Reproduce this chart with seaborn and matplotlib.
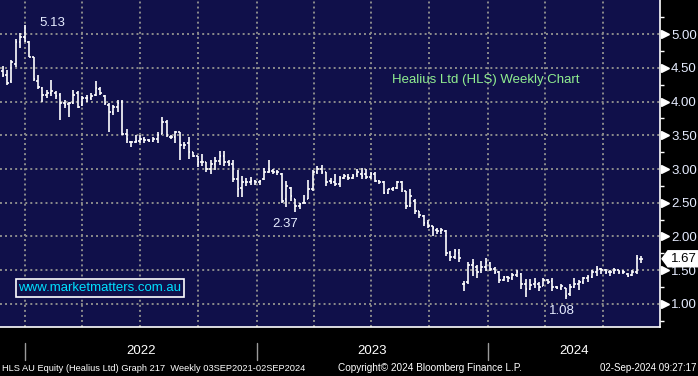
import numpy as np
import pandas as pd
import matplotlib
matplotlib.use("Agg")
import matplotlib.pyplot as plt
import matplotlib.dates as mdates
import matplotlib.transforms as mtransforms
from matplotlib.patches import Polygon
import seaborn as sns

# weekly bars, first visible week and count
first_week = "2021-11-26"
n_weeks = 145

opens = [
    4.45, 4.40, 4.30, 4.55, 4.88, 4.95, 4.88, 4.66, 4.30, 4.20,
    4.10, 4.12, 4.12, 4.10, 3.98, 3.97, 3.98, 4.12, 3.95, 4.05,
    4.05, 4.10, 4.18, 4.08, 3.95, 3.85, 3.92, 4.00, 3.52, 3.40,
    3.40, 3.42, 3.45, 3.43, 3.42, 3.45, 3.52, 3.70, 3.48, 3.48,
    3.55, 3.35, 3.38, 3.25, 3.20, 3.10, 3.10, 3.00, 3.08, 3.12,
    3.20, 3.10, 3.08, 2.85, 2.72, 2.80, 2.80, 2.82, 2.80, 2.85,
    2.95, 2.97, 2.96, 2.92, 2.55, 2.72, 2.55, 2.45, 2.50, 2.55,
    2.70, 2.96, 3.00, 2.95, 2.82, 2.80, 2.78, 2.87, 2.88, 2.86,
    2.92, 2.92, 2.92, 2.88, 2.92, 2.82, 2.80, 2.65, 2.70, 2.72,
    2.80, 2.68, 2.45, 2.52, 2.38, 2.30, 2.20, 2.15, 2.10, 2.08,
    2.08, 1.75, 1.70, 1.76, 1.30, 1.32, 1.58, 1.55, 1.50, 1.55,
    1.60, 1.52, 1.47, 1.36, 1.40, 1.38, 1.43, 1.45, 1.30, 1.22,
    1.30, 1.30, 1.27, 1.35, 1.34, 1.25, 1.24, 1.24, 1.15, 1.25,
    1.30, 1.32, 1.38, 1.40, 1.48, 1.52, 1.50, 1.48, 1.47, 1.50,
    1.48, 1.45, 1.43, 1.47, 1.66,
]
highs = [
    4.52, 4.47, 4.62, 4.92, 5.02, 5.13, 4.90, 4.66, 4.40, 4.22,
    4.17, 4.32, 4.15, 4.13, 4.02, 4.00, 4.17, 4.15, 4.08, 4.10,
    4.12, 4.30, 4.22, 4.10, 3.98, 3.95, 4.02, 4.02, 3.60, 3.42,
    3.50, 3.50, 3.47, 3.45, 3.47, 3.55, 3.77, 3.72, 3.50, 3.56,
    3.55, 3.40, 3.47, 3.25, 3.20, 3.22, 3.10, 3.13, 3.18, 3.26,
    3.26, 3.13, 3.13, 2.99, 2.89, 2.86, 2.88, 2.84, 2.84, 3.01,
    3.13, 3.00, 2.99, 2.94, 2.82, 2.74, 2.55, 2.50, 2.62, 2.84,
    2.98, 3.05, 3.06, 2.95, 2.86, 2.92, 2.90, 2.92, 2.92, 2.92,
    3.00, 3.02, 3.00, 2.95, 2.95, 2.83, 2.82, 2.70, 2.74, 2.82,
    2.82, 2.68, 2.71, 2.55, 2.38, 2.32, 2.25, 2.16, 2.12, 2.12,
    2.09, 1.78, 1.81, 1.81, 1.34, 1.62, 1.66, 1.58, 1.63, 1.68,
    1.62, 1.55, 1.49, 1.42, 1.42, 1.46, 1.50, 1.46, 1.37, 1.37,
    1.39, 1.32, 1.38, 1.37, 1.38, 1.27, 1.29, 1.24, 1.30, 1.38,
    1.36, 1.40, 1.43, 1.50, 1.56, 1.54, 1.52, 1.51, 1.54, 1.51,
    1.51, 1.46, 1.50, 1.72, 1.71,
]
lows = [
    4.36, 4.24, 4.28, 4.51, 4.80, 4.88, 4.66, 4.30, 4.18, 3.99,
    4.05, 4.08, 4.03, 3.72, 3.90, 3.77, 3.97, 3.90, 3.93, 4.00,
    4.02, 4.08, 4.10, 3.95, 3.55, 3.80, 3.85, 3.50, 3.38, 3.33,
    3.38, 3.38, 3.38, 3.40, 3.40, 3.38, 3.52, 3.47, 3.45, 3.38,
    3.13, 3.30, 3.15, 3.18, 3.03, 3.05, 2.95, 2.93, 2.99, 3.06,
    3.04, 3.04, 2.81, 2.59, 2.59, 2.75, 2.76, 2.76, 2.77, 2.84,
    2.94, 2.92, 2.91, 2.49, 2.44, 2.52, 2.37, 2.40, 2.49, 2.55,
    2.68, 2.92, 2.93, 2.75, 2.78, 2.75, 2.73, 2.85, 2.84, 2.85,
    2.88, 2.85, 2.85, 2.85, 2.80, 2.78, 2.63, 2.63, 2.68, 2.70,
    2.66, 2.41, 2.44, 2.33, 2.28, 2.15, 2.13, 2.00, 2.03, 2.03,
    1.71, 1.63, 1.66, 1.62, 1.19, 1.30, 1.41, 1.39, 1.46, 1.49,
    1.49, 1.44, 1.31, 1.34, 1.33, 1.36, 1.40, 1.22, 1.11, 1.20,
    1.24, 1.19, 1.26, 1.30, 1.19, 1.22, 1.20, 1.08, 1.12, 1.24,
    1.20, 1.30, 1.33, 1.38, 1.41, 1.44, 1.45, 1.42, 1.44, 1.44,
    1.44, 1.40, 1.42, 1.44, 1.61,
]
closes = [
    4.40, 4.28, 4.58, 4.88, 4.95, 4.90, 4.66, 4.33, 4.22, 4.10,
    4.12, 4.15, 4.08, 3.98, 3.95, 3.98, 4.10, 3.92, 4.05, 4.05,
    4.08, 4.20, 4.12, 3.98, 3.85, 3.92, 3.98, 3.52, 3.45, 3.40,
    3.42, 3.45, 3.43, 3.42, 3.45, 3.50, 3.70, 3.50, 3.48, 3.55,
    3.35, 3.35, 3.25, 3.20, 3.10, 3.10, 3.00, 3.08, 3.12, 3.20,
    3.10, 3.08, 2.85, 2.70, 2.80, 2.80, 2.82, 2.80, 2.82, 2.95,
    2.97, 2.96, 2.95, 2.52, 2.75, 2.60, 2.45, 2.48, 2.50, 2.70,
    2.95, 3.00, 2.95, 2.80, 2.80, 2.78, 2.87, 2.90, 2.86, 2.90,
    2.95, 2.90, 2.88, 2.92, 2.82, 2.80, 2.65, 2.70, 2.72, 2.80,
    2.70, 2.45, 2.60, 2.38, 2.32, 2.20, 2.15, 2.12, 2.08, 2.10,
    1.75, 1.70, 1.78, 1.68, 1.30, 1.58, 1.60, 1.48, 1.55, 1.62,
    1.52, 1.47, 1.35, 1.40, 1.38, 1.43, 1.47, 1.30, 1.22, 1.28,
    1.32, 1.25, 1.35, 1.33, 1.25, 1.24, 1.26, 1.12, 1.25, 1.30,
    1.32, 1.38, 1.40, 1.48, 1.52, 1.50, 1.48, 1.47, 1.50, 1.48,
    1.47, 1.42, 1.48, 1.68, 1.67,
]

y_ticks = [1.00, 1.50, 2.00, 2.50, 3.00, 3.50, 4.00, 4.50, 5.00]
y_minor = [0.75, 1.25, 1.75, 2.25, 2.75, 3.25, 3.75, 4.25, 4.75, 5.25]
years = ["2022", "2023", "2024"]

title = "Healius Ltd (HLS) Weekly Chart"
website = "www.marketmatters.com.au"
footer_left = "HLS AU Equity (Healius Ltd) Graph 217  Weekly 03SEP2021-02SEP2024"
footer_mid = "Copyright\u00a9 2024 Bloomberg Finance L.P."
footer_right = "02-Sep-2024 09:27:17"

NAVY = "#10104a"
GRID = "#8c8c8c"
LABEL = "#e6ecff"

df = pd.DataFrame({
    "date": pd.date_range(first_week, periods=n_weeks, freq="7D"),
    "open": opens, "high": highs, "low": lows, "close": closes,
})

sns.set_theme(style="dark", rc={"axes.facecolor": NAVY, "figure.facecolor": "black"})
plt.rcParams["font.family"] = ["Liberation Sans", "DejaVu Sans"]

fig = plt.figure(figsize=(6.98, 3.76), dpi=100, facecolor="black")
ax = fig.add_axes([0, 49 / 376, 660 / 698, 327 / 376])
ax.set_facecolor(NAVY)

# OHLC bars
half = pd.Timedelta(days=2.6)
ax.vlines(df["date"], df["low"], df["high"], color="white", lw=1.2, zorder=3)
ax.hlines(df["open"], df["date"] - half, df["date"], color="white", lw=1.2, zorder=3)
ax.hlines(df["close"], df["date"], df["date"] + half, color="white", lw=1.2, zorder=3)

ax.set_xlim(pd.Timestamp("2021-11-22"), pd.Timestamp("2024-09-29"))
ax.set_ylim(0.659, 5.504)

# x axis: quarterly grid, monthly ticks
ax.xaxis.set_major_locator(mdates.MonthLocator(bymonth=[1, 4, 7, 10]))
ax.xaxis.set_minor_locator(mdates.MonthLocator())
ax.tick_params(axis="x", which="both", direction="out", length=3.5, width=1,
               colors="white", labelbottom=False)

# y axis on the right
ax.yaxis.tick_right()
ax.set_yticks(y_ticks)
ax.set_yticklabels([f"{v:.2f}" for v in y_ticks])
ax.set_yticks(y_minor, minor=True)
ax.tick_params(axis="y", which="major", length=0, pad=8, labelcolor=LABEL, labelsize=9.5)
ax.tick_params(axis="y", which="minor", direction="out", length=3, width=1, colors="white")

ax.set_axisbelow(True)
ax.grid(which="major", axis="both", color=GRID, linestyle=(0, (1, 1.6)), lw=1.4)
ax.grid(which="minor", visible=False)

for side in ["left", "top"]:
    ax.spines[side].set_visible(False)
for side in ["right", "bottom"]:
    ax.spines[side].set_visible(True)
    ax.spines[side].set_color("white")
    ax.spines[side].set_linewidth(1.2)

# small pointers at the major ticks
ty = mtransforms.blended_transform_factory(ax.transAxes, ax.transData)
ax.plot([1.008] * len(y_ticks), y_ticks, marker=">", ls="none", ms=5.5,
        color="white", transform=ty, clip_on=False)

# year separators and labels
tx = mtransforms.blended_transform_factory(ax.transData, ax.transAxes)
xmax = ax.get_xlim()[1]
for yr in years:
    start = mdates.date2num(pd.Timestamp(f"{yr}-01-01"))
    end = mdates.date2num(pd.Timestamp(f"{int(yr) + 1}-01-01"))
    end = min(end, xmax)
    ax.plot([start, start], [-0.049, -0.101], color="#9a9a9a", lw=1,
            transform=tx, clip_on=False)
    ax.text((start + end) / 2, -0.073, yr, transform=tx, ha="center", va="center",
            color="white", fontsize=9.5)

# high / low annotations
i_hi = int(np.argmax(highs))
i_lo_mid = 66
i_lo = int(np.argmin(lows))
ax.annotate(f"{highs[i_hi]:.2f}", xy=(df["date"][i_hi], highs[i_hi]), xytext=(20, 1.5),
            textcoords="offset points", ha="center", va="center", color=LABEL, fontsize=9.5)
ax.annotate(f"{lows[i_lo_mid]:.2f}", xy=(df["date"][i_lo_mid], lows[i_lo_mid]), xytext=(-7.5, -9),
            textcoords="offset points", ha="center", va="center", color=LABEL, fontsize=9.5)
ax.annotate(f"{lows[i_lo]:.2f}", xy=(df["date"][i_lo], lows[i_lo]), xytext=(-3, -9),
            textcoords="offset points", ha="center", va="center", color=LABEL, fontsize=9.5)

ax.text(485.5 / 660, (327 - 80) / 327, title, transform=ax.transAxes, ha="center",
        va="center", color="#90ee90", fontsize=9.5)

ax.text(100 / 660, (327 - 288) / 327, website, transform=ax.transAxes, ha="center",
        va="center", color="#00e0ff", fontsize=9.5,
        bbox=dict(boxstyle="square,pad=0.22", fc=NAVY, ec="white", lw=1.2))

# last price marker
last = closes[-1]
h = 8 / 67.5
tag = Polygon([(1.003, last), (1.012, last + h), (1.06, last + h),
               (1.06, last - h), (1.012, last - h)], closed=True,
              transform=ty, fc="white", ec="white", clip_on=False, zorder=6)
ax.add_patch(tag)
ax.text(1.036, last, f"{last:.2f}", transform=ty, ha="center", va="center",
        color="black", fontsize=9.5, clip_on=False, zorder=7)

fig.text(0.003, 0.021, footer_left, color="white", fontsize=6.7, va="center", ha="left")
fig.text(338 / 698, 0.021, footer_mid, color="white", fontsize=7.2, va="center", ha="left")
fig.text(0.997, 0.021, footer_right, color="white", fontsize=7, va="center", ha="right")

fig.savefig("out.png", dpi=100, facecolor="black")
